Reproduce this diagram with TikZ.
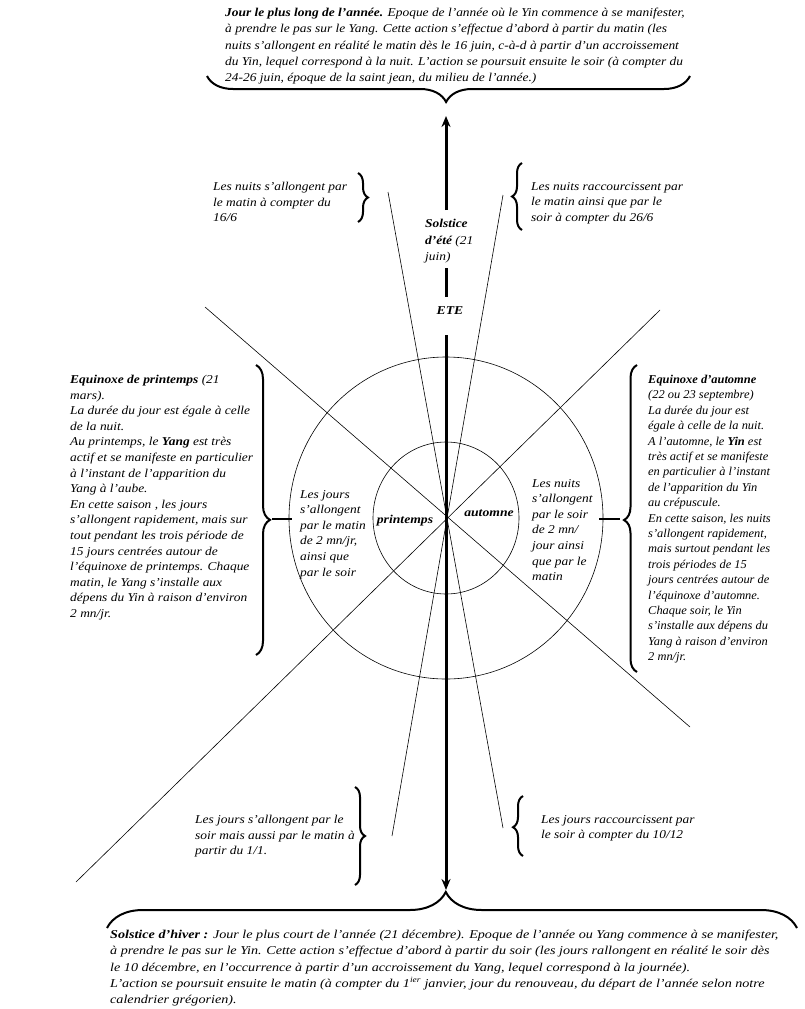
\documentclass[tikz,border=0pt]{standalone}
\usepackage{fontspec}
\setmainfont{Liberation Serif}[FakeStretch=1.118]
\newfontfamily\rightfont{Liberation Serif}[FakeStretch=1.036]
\newfontfamily\botfont{Liberation Serif}[FakeStretch=1.178]
\newfontfamily\lblfont{Liberation Serif}[FakeStretch=1.14]
\usetikzlibrary{arrows.meta,decorations.pathreplacing}
\begin{document}
\begin{tikzpicture}[x=1pt,y=-1pt,
  txt/.style={anchor=north west, inner sep=0pt, align=left, font=\fontsize{12}{15.6}\selectfont\itshape},
  wide/.style={txt, font=\fontsize{12}{16.2}\selectfont\itshape},
  lbl/.style={inner sep=0pt, font=\fontsize{12}{14}\selectfont\lblfont\itshape\bfseries},
  thinline/.style={line width=0.6pt},
  axis/.style={line width=3pt},
  tick/.style={line width=2.6pt},
  tipstyle/.style={-{Stealth[length=11pt,width=9pt]}},
  bracestyle/.style={decorate, decoration={brace, amplitude=#1}, line width=2pt},
  bracea/.style 2 args={decorate, decoration={brace, amplitude=#1, aspect=#2}, line width=2pt}
]
\useasboundingbox (0,0) rectangle (804,1009);

% circles and lines
\coordinate (C) at (446,518);
\draw[thinline] (C) ellipse [x radius=157, y radius=161];
\draw[thinline] (C) ellipse [x radius=73, y radius=76];
\coordinate (d1a) at (205,307); \coordinate (d1b) at (690,727);
\coordinate (d2a) at (660,310); \coordinate (d2b) at (76,882);
\coordinate (v1a) at (388,192); \coordinate (v1b) at (503,828);
\coordinate (v2a) at (503,195); \coordinate (v2b) at (392,836);
\draw[thinline] (d1a) -- (d1b);
\draw[thinline] (d2a) -- (d2b);
\draw[thinline] (v1a) -- (v1b);
\draw[thinline] (v2a) -- (v2b);

% texts
\node[wide] (top) at (225,8) {\textbf{Jour le plus long de l’année.} Epoque de l’année où le Yin commence à se manifester,\\
à prendre le pas sur le Yang. Cette action s’effectue d’abord à partir du matin (les\\
nuits s’allongent en réalité le matin dès le 16 juin, c-à-d à partir d’un accroissement\\
du Yin, lequel correspond à la nuit. L’action se poursuit ensuite le soir (à compter du\\
24-26 juin, époque de la saint jean, du milieu de l’année.)};

\node[txt] (tl) at (213,182) {Les nuits s’allongent par\\ le matin à compter du\\ 16/6};
\node[txt] (tr) at (531,182) {Les nuits raccourcissent par\\ le matin ainsi que par le\\ soir à compter du 26/6};

\node[txt, font=\fontsize{12}{16.5}\selectfont\itshape] (sol) at (425,219) {\textbf{Solstice}\\ \textbf{d’été} (21\\ juin)};
\node[lbl] (ete) at (450,311) {ETE};

\node[txt] (left) at (70,375) {\textbf{Equinoxe de printemps} (21\\
mars).\\
La durée du jour est égale à celle\\
de la nuit.\\
Au printemps, le \textbf{Yang} est très\\
actif et se manifeste en particulier\\
à l’instant de l’apparition du\\
Yang à l’aube.\\
En cette saison , les jours\\
s’allongent rapidement, mais sur\\
tout pendant les trois période de\\
15 jours centrées autour de\\
l’équinoxe de printemps. Chaque\\
matin, le Yang s’installe aux\\
dépens du Yin à raison d’environ\\
2 mn/jr.};

\node[txt, font=\fontsize{12}{15.4}\selectfont\rightfont\itshape] (right) at (648,375) {\textbf{Equinoxe d’automne}\\
(22 ou 23 septembre)\\
La durée du jour est\\
égale à celle de la nuit.\\
A l’automne, le \textbf{Yin} est\\
très actif et se manifeste\\
en particulier à l’instant\\
de l’apparition du Yin\\
au crépuscule.\\
En cette saison, les nuits\\
s’allongent rapidement,\\
mais surtout pendant les\\
trois périodes de 15\\
jours centrées autour de\\
l’équinoxe d’automne.\\
Chaque soir, le Yin\\
s’installe aux dépens du\\
Yang à raison d’environ\\
2 mn/jr.};

\node[txt] (il) at (300,490) {Les jours\\ s’allongent\\ par le matin\\ de 2 mn/jr,\\ ainsi que\\ par le soir};
\node[lbl] (prin) at (405,521) {printemps};
\node[lbl] (aut) at (489,513) {automne};
\node[txt] (ir) at (532,479) {Les nuits\\ s’allongent\\ par le soir\\ de 2 mn/\\ jour ainsi\\ que par le\\ matin};

\node[txt] (bl) at (195,815) {Les jours s’allongent par le\\ soir mais aussi par le matin à\\ partir du 1/1.};
\node[txt] (br) at (541,815) {Les jours raccourcissent par\\ le soir à compter du 10/12};

\node[wide, font=\fontsize{12}{16.2}\selectfont\botfont\itshape] (bot) at (110,930) {\textbf{Solstice d’hiver :} Jour le plus court de l’année (21 décembre). Epoque de l’année ou Yang commence à se manifester,\\
à prendre le pas sur le Yin. Cette action s’effectue d’abord à partir du soir (les jours rallongent en réalité le soir dès\\
le 10 décembre, en l’occurrence à partir d’un accroissement du Yang, lequel correspond à la journée).\\
L’action se poursuit ensuite le matin (à compter du 1\textsuperscript{ier} janvier, jour du renouveau, du départ de l’année selon notre\\
calendrier grégorien).};

% axis
\coordinate (a1) at (446,210); \coordinate (a0) at (446,116);
\coordinate (a2) at (446,268); \coordinate (a3) at (446,297);
\coordinate (a4) at (446,335); \coordinate (a5) at (446,890);
\draw[axis, tipstyle] (a1) -- (a0);
\draw[axis] (a2) -- (a3);
\draw[axis, tipstyle] (a4) -- (a5);

% ticks
\coordinate (tl1) at (272,519); \coordinate (tl2) at (292,519);
\coordinate (tr1) at (599,519); \coordinate (tr2) at (620,519);
\draw[tick] (tl1) -- (tl2);
\draw[tick] (tr1) -- (tr2);

% braces
\coordinate (bt1) at (690,76); \coordinate (bt2) at (207,76);
\draw[bracea={26}{0.505}] (bt1) -- (bt2);
\coordinate (bb1) at (107,928); \coordinate (bb2) at (797,928);
\draw[bracea={36}{0.491}] (bb1) -- (bb2);
\coordinate (bl1) at (256,365); \coordinate (bl2) at (256,655);
\draw[bracea={14}{0.534}] (bl1) -- (bl2);
\coordinate (br1) at (637,672); \coordinate (br2) at (637,365);
\draw[bracea={13}{0.495}] (br1) -- (br2);
\coordinate (s1a) at (358,173); \coordinate (s1b) at (358,222);
\draw[bracestyle=10] (s1a) -- (s1b);
\coordinate (s2a) at (522,230); \coordinate (s2b) at (522,163);
\draw[bracestyle=10] (s2a) -- (s2b);
\coordinate (s3a) at (355,787); \coordinate (s3b) at (355,885);
\draw[bracea={10}{0.5}] (s3a) -- (s3b);
\coordinate (s4a) at (523,856); \coordinate (s4b) at (523,796);
\draw[bracea={10}{0.48}] (s4a) -- (s4b);
\end{tikzpicture}
\end{document}
